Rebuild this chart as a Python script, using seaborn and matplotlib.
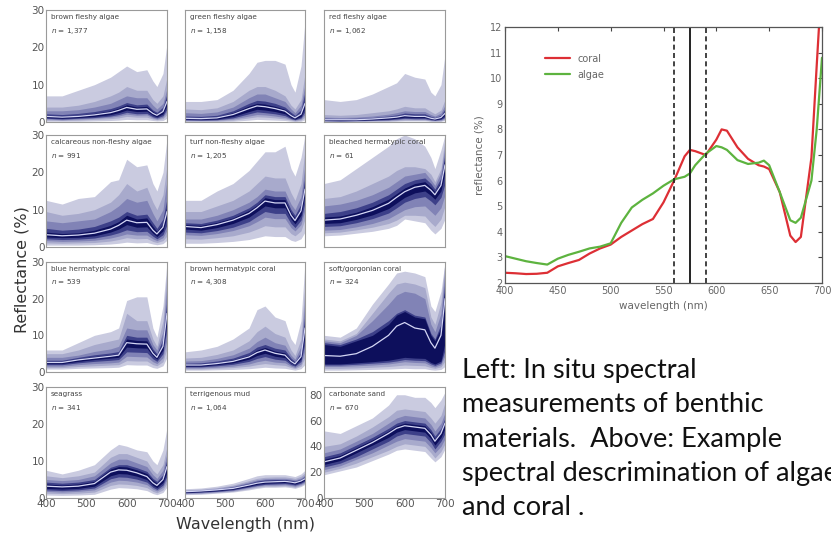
import numpy as np
import pandas as pd
import matplotlib
matplotlib.use("Agg")
import matplotlib.pyplot as plt
import seaborn as sns

sns.set_theme(style="white")
plt.rcParams['font.family'] = ['DejaVu Sans']

# ---------------- data: left panels (percentile bands) ----------------
WL = [400, 440, 480, 520, 560, 580, 600, 625, 650, 665, 675, 690, 700]
# rows: lo1, lo2, lo3, lo4, lo5, median, hi5, hi4, hi3, hi2, hi1
brown_fleshy_algae = [
    [0.2, 0.2, 0.2, 0.3, 0.4, 0.5, 0.7, 0.6, 0.6, 0.4, 0.3, 0.4, 1.0],
    [0.5, 0.4, 0.5, 0.7, 0.9, 1.1, 1.5, 1.3, 1.3, 0.8, 0.6, 0.9, 2.0],
    [0.8, 0.6, 0.8, 1.0, 1.3, 1.6, 2.1, 1.8, 1.9, 1.1, 0.8, 1.3, 2.8],
    [1.0, 0.8, 1.0, 1.2, 1.6, 2.0, 2.6, 2.2, 2.3, 1.4, 1.1, 1.7, 3.5],
    [1.2, 1.0, 1.2, 1.5, 2.0, 2.5, 3.2, 2.8, 2.9, 1.8, 1.4, 2.2, 4.5],
    [1.5, 1.3, 1.5, 1.9, 2.5, 3.1, 3.9, 3.4, 3.5, 2.3, 1.8, 2.8, 5.5],
    [1.8, 1.6, 1.8, 2.3, 3.0, 3.7, 4.6, 4.0, 4.2, 2.8, 2.2, 3.3, 6.5],
    [2.2, 2.0, 2.3, 2.8, 3.6, 4.3, 5.2, 4.6, 4.8, 3.2, 2.6, 4.0, 7.5],
    [3.0, 3.0, 3.3, 4.0, 5.0, 6.0, 7.0, 6.5, 6.5, 4.5, 3.5, 5.0, 9.0],
    [4.0, 4.0, 4.5, 5.5, 7.0, 8.0, 9.5, 8.5, 8.5, 6.0, 5.0, 7.0, 12.0],
    [7.0, 7.0, 8.5, 10.0, 12.0, 13.5, 15.0, 13.5, 14.0, 11.0, 9.5, 13.0, 21.0],
]
green_fleshy_algae = [
    [0.1, 0.1, 0.1, 0.2, 0.5, 0.7, 0.6, 0.5, 0.4, 0.2, 0.1, 0.2, 0.6],
    [0.3, 0.3, 0.3, 0.5, 1.1, 1.4, 1.3, 1.1, 0.8, 0.5, 0.3, 0.5, 1.3],
    [0.5, 0.4, 0.5, 0.8, 1.6, 2.0, 1.9, 1.6, 1.2, 0.7, 0.5, 0.8, 2.0],
    [0.6, 0.5, 0.6, 1.1, 2.2, 2.7, 2.5, 2.2, 1.7, 0.9, 0.6, 1.1, 2.8],
    [0.8, 0.7, 0.8, 1.5, 2.8, 3.4, 3.2, 2.8, 2.2, 1.2, 0.8, 1.5, 3.8],
    [1.0, 0.9, 1.1, 2.0, 3.6, 4.3, 4.1, 3.6, 2.9, 1.7, 1.1, 2.1, 5.0],
    [1.2, 1.1, 1.4, 2.5, 4.3, 5.0, 4.8, 4.2, 3.4, 2.1, 1.4, 2.6, 6.0],
    [1.6, 1.5, 1.8, 3.0, 5.0, 5.8, 5.6, 5.0, 4.0, 2.6, 1.8, 3.3, 8.0],
    [2.5, 2.3, 2.7, 4.0, 6.5, 7.5, 7.5, 6.5, 5.5, 3.5, 2.5, 4.5, 10.0],
    [3.5, 3.3, 3.8, 5.5, 8.5, 9.5, 9.5, 8.5, 7.0, 4.5, 3.5, 6.0, 13.0],
    [5.5, 5.5, 6.0, 8.5, 13.0, 16.0, 16.5, 16.5, 15.5, 10.0, 8.0, 15.0, 27.0],
]
red_fleshy_algae = [
    [0.1, 0.1, 0.1, 0.1, 0.2, 0.2, 0.3, 0.3, 0.3, 0.2, 0.1, 0.2, 0.4],
    [0.2, 0.2, 0.2, 0.3, 0.3, 0.4, 0.5, 0.5, 0.5, 0.3, 0.3, 0.3, 0.7],
    [0.3, 0.2, 0.3, 0.4, 0.5, 0.6, 0.8, 0.7, 0.7, 0.5, 0.4, 0.5, 1.0],
    [0.4, 0.3, 0.4, 0.5, 0.6, 0.8, 1.0, 0.9, 0.9, 0.6, 0.5, 0.7, 1.3],
    [0.5, 0.4, 0.5, 0.6, 0.8, 1.0, 1.3, 1.2, 1.2, 0.8, 0.6, 0.9, 1.8],
    [0.6, 0.6, 0.6, 0.8, 1.1, 1.3, 1.7, 1.5, 1.5, 1.0, 0.8, 1.2, 2.3],
    [0.8, 0.7, 0.8, 1.0, 1.3, 1.6, 2.0, 1.8, 1.8, 1.2, 1.0, 1.5, 2.8],
    [1.0, 0.9, 1.0, 1.2, 1.6, 1.9, 2.4, 2.2, 2.2, 1.5, 1.2, 1.8, 3.5],
    [1.3, 1.2, 1.3, 1.6, 2.1, 2.5, 3.0, 2.8, 2.8, 2.0, 1.6, 2.4, 4.5],
    [2.0, 1.8, 2.0, 2.5, 3.0, 3.5, 4.2, 3.8, 3.8, 2.8, 2.2, 3.2, 6.0],
    [6.0, 5.5, 6.0, 7.5, 9.5, 10.5, 13.0, 12.0, 11.5, 8.0, 7.0, 10.0, 18.0],
]
calcareous_algae = [
    [0.5, 0.5, 0.5, 0.6, 0.8, 1.0, 1.3, 1.1, 1.2, 0.8, 0.6, 0.9, 1.8],
    [1.1, 1.0, 1.1, 1.2, 1.6, 2.0, 2.5, 2.2, 2.3, 1.5, 1.2, 1.7, 3.0],
    [1.7, 1.5, 1.6, 1.8, 2.4, 2.9, 3.5, 3.2, 3.2, 2.2, 1.7, 2.5, 4.5],
    [2.2, 2.0, 2.1, 2.4, 3.2, 3.8, 4.6, 4.1, 4.2, 2.9, 2.2, 3.3, 6.0],
    [2.7, 2.5, 2.6, 3.0, 4.0, 4.8, 6.0, 5.3, 5.4, 3.7, 2.8, 4.3, 8.0],
    [3.3, 3.0, 3.2, 3.7, 4.8, 5.8, 7.2, 6.5, 6.6, 4.5, 3.5, 5.3, 9.5],
    [4.0, 3.6, 3.8, 4.5, 5.8, 6.8, 8.5, 7.5, 7.8, 5.5, 4.2, 6.3, 11.0],
    [5.0, 4.5, 4.8, 5.5, 7.0, 8.0, 9.5, 8.5, 8.8, 6.5, 5.0, 7.5, 13.0],
    [7.0, 6.5, 7.0, 7.5, 9.5, 11.0, 13.0, 12.0, 12.5, 9.0, 7.0, 10.0, 18.0],
    [9.5, 8.5, 9.0, 10.0, 12.0, 14.0, 17.0, 15.0, 16.0, 12.0, 10.0, 14.0, 22.0],
    [12.5, 11.5, 13.0, 13.5, 17.5, 18.0, 23.5, 21.5, 22.0, 17.0, 15.0, 20.0, 29.0],
]
turf_algae = [
    [1.0, 1.0, 1.2, 1.5, 2.0, 2.5, 3.0, 2.8, 2.8, 1.8, 1.5, 2.2, 4.0],
    [2.2, 2.1, 2.5, 3.0, 4.0, 4.8, 5.7, 5.4, 5.4, 3.6, 3.0, 4.3, 7.5],
    [3.3, 3.1, 3.6, 4.4, 5.7, 6.8, 8.0, 7.6, 7.6, 5.2, 4.3, 6.0, 10.0],
    [4.0, 3.8, 4.4, 5.3, 6.8, 8.2, 9.5, 9.0, 9.0, 6.3, 5.2, 7.2, 12.0],
    [4.8, 4.5, 5.2, 6.3, 8.0, 9.5, 11.0, 10.5, 10.5, 7.5, 6.2, 8.5, 14.0],
    [5.5, 5.2, 6.0, 7.2, 9.0, 10.5, 12.3, 11.8, 11.8, 8.5, 7.1, 9.7, 15.5],
    [6.0, 5.8, 6.6, 7.8, 9.8, 11.2, 13.2, 12.7, 12.7, 9.2, 7.8, 10.5, 17.0],
    [6.5, 6.3, 7.2, 8.5, 10.5, 12.0, 14.0, 13.5, 13.5, 10.0, 8.5, 11.5, 19.0],
    [7.5, 7.5, 8.5, 10.0, 12.0, 13.5, 15.5, 15.0, 15.0, 11.5, 10.0, 13.5, 22.0],
    [9.5, 9.5, 11.0, 12.5, 15.0, 17.0, 19.0, 18.5, 18.5, 14.5, 12.5, 17.0, 26.0],
    [12.5, 12.5, 15.0, 17.0, 20.5, 23.0, 25.5, 25.5, 27.0, 21.0, 19.0, 24.0, 30.0],
]
bleached_coral = [
    [3.0, 3.2, 3.7, 4.2, 5.0, 5.8, 7.5, 7.0, 6.5, 4.5, 3.5, 5.0, 7.5],
    [3.8, 4.0, 4.6, 5.3, 6.3, 7.2, 8.5, 8.5, 8.3, 6.5, 5.5, 7.5, 11.0],
    [4.5, 4.7, 5.4, 6.3, 7.6, 8.8, 10.0, 10.8, 11.0, 9.5, 8.5, 10.5, 14.0],
    [5.5, 5.7, 6.5, 7.6, 9.1, 10.5, 12.0, 13.0, 13.5, 12.3, 11.3, 13.3, 17.0],
    [6.3, 6.5, 7.4, 8.6, 10.3, 11.8, 13.3, 14.5, 15.0, 13.8, 12.8, 15.0, 20.0],
    [7.2, 7.5, 8.5, 9.8, 11.7, 13.3, 14.8, 16.0, 16.5, 15.2, 14.0, 16.5, 22.0],
    [8.0, 8.3, 9.3, 10.8, 12.8, 14.3, 15.8, 17.0, 17.5, 16.0, 14.8, 17.5, 24.0],
    [9.0, 9.5, 10.5, 12.0, 14.0, 15.5, 17.0, 18.0, 18.5, 17.0, 15.5, 18.5, 25.0],
    [11.0, 11.5, 12.5, 14.0, 16.0, 17.5, 19.0, 19.5, 20.0, 18.0, 16.5, 20.0, 27.0],
    [13.0, 13.5, 15.0, 17.0, 19.0, 20.5, 21.5, 21.5, 21.0, 19.5, 17.5, 21.0, 29.0],
    [17.0, 18.0, 21.0, 24.0, 27.0, 29.0, 30.0, 29.0, 27.0, 24.0, 21.0, 26.0, 30.0],
]
blue_coral = [
    [0.8, 0.8, 1.0, 1.1, 1.2, 1.3, 2.0, 1.9, 1.9, 1.2, 1.0, 1.7, 4.0],
    [1.2, 1.2, 1.5, 1.7, 1.9, 2.0, 3.1, 3.0, 3.0, 2.0, 1.7, 2.8, 6.5],
    [1.6, 1.6, 2.0, 2.3, 2.5, 2.7, 4.3, 4.2, 4.1, 2.8, 2.3, 3.9, 9.0],
    [2.0, 2.0, 2.5, 2.9, 3.2, 3.4, 5.5, 5.4, 5.3, 3.6, 2.9, 5.0, 12.0],
    [2.3, 2.3, 2.9, 3.4, 3.8, 4.0, 6.8, 6.6, 6.5, 4.4, 3.5, 6.0, 14.0],
    [2.6, 2.6, 3.3, 3.8, 4.3, 4.6, 8.0, 7.7, 7.6, 5.1, 4.0, 7.0, 16.0],
    [2.9, 2.9, 3.6, 4.2, 4.7, 5.0, 9.0, 8.6, 8.5, 5.7, 4.5, 8.0, 18.0],
    [3.2, 3.2, 4.0, 4.7, 5.2, 5.6, 10.0, 9.5, 9.5, 6.3, 5.0, 9.0, 20.0],
    [4.0, 4.0, 4.6, 5.6, 6.3, 7.0, 12.0, 11.5, 11.5, 7.5, 6.0, 11.0, 24.0],
    [5.0, 5.0, 6.0, 7.5, 8.5, 9.0, 16.0, 14.0, 14.0, 9.0, 7.0, 14.0, 28.0],
    [6.0, 6.0, 8.0, 10.0, 11.0, 12.0, 19.5, 20.5, 20.5, 12.0, 9.5, 18.0, 30.0],
]
brown_coral = [
    [0.5, 0.5, 0.6, 0.7, 0.9, 1.1, 1.3, 1.1, 1.0, 0.7, 0.5, 0.9, 2.0],
    [0.8, 0.8, 1.0, 1.2, 1.6, 2.0, 2.3, 2.0, 1.8, 1.2, 0.9, 1.6, 4.0],
    [1.1, 1.1, 1.3, 1.6, 2.2, 2.8, 3.2, 2.7, 2.5, 1.6, 1.2, 2.2, 6.0],
    [1.4, 1.4, 1.7, 2.1, 2.9, 3.7, 4.2, 3.5, 3.2, 2.0, 1.6, 2.9, 8.0],
    [1.6, 1.6, 2.0, 2.5, 3.5, 4.5, 5.1, 4.3, 3.9, 2.5, 1.9, 3.6, 10.0],
    [1.9, 1.9, 2.3, 2.9, 4.1, 5.3, 6.0, 5.1, 4.6, 2.9, 2.2, 4.2, 12.0],
    [2.1, 2.2, 2.6, 3.3, 4.6, 6.0, 6.7, 5.7, 5.2, 3.3, 2.5, 4.8, 14.0],
    [2.4, 2.5, 3.0, 3.8, 5.3, 6.8, 7.5, 6.5, 6.0, 3.8, 2.8, 5.5, 16.0],
    [3.0, 3.1, 3.7, 4.7, 6.5, 8.3, 9.5, 8.0, 7.3, 4.6, 3.5, 7.0, 20.0],
    [3.8, 4.0, 4.8, 6.0, 8.5, 11.0, 12.5, 10.5, 9.5, 6.0, 4.5, 9.0, 24.0],
    [5.5, 6.0, 7.0, 9.0, 12.0, 17.0, 18.0, 15.0, 14.0, 9.0, 7.5, 14.0, 30.0],
]
soft_coral = [
    [0.5, 0.5, 0.6, 0.7, 0.8, 0.9, 1.0, 0.9, 0.9, 0.6, 0.5, 0.7, 1.5],
    [1.0, 1.0, 1.1, 1.3, 1.5, 1.7, 1.9, 1.8, 1.7, 1.2, 1.0, 1.4, 3.0],
    [1.5, 1.5, 1.7, 1.9, 2.2, 2.5, 2.8, 2.6, 2.5, 1.7, 1.4, 2.0, 4.5],
    [1.9, 1.9, 2.1, 2.4, 2.7, 3.0, 3.4, 3.2, 3.1, 2.2, 1.8, 2.5, 6.0],
    [2.2, 2.2, 2.5, 2.8, 3.2, 3.6, 4.0, 3.8, 3.7, 2.6, 2.2, 3.0, 8.0],
    [4.5, 4.3, 5.0, 7.0, 10.0, 12.5, 13.5, 12.0, 11.5, 8.0, 6.5, 10.0, 20.0],
    [7.5, 7.0, 8.5, 10.0, 13.0, 15.5, 16.5, 15.0, 14.5, 10.0, 8.5, 12.0, 23.0],
    [8.0, 7.5, 9.0, 11.0, 14.0, 16.0, 17.0, 15.5, 15.0, 10.5, 9.0, 13.0, 25.0],
    [8.5, 8.0, 10.0, 14.0, 18.5, 21.0, 22.0, 21.5, 20.0, 13.0, 11.0, 16.0, 28.0],
    [9.0, 8.5, 10.5, 16.0, 21.5, 24.0, 24.5, 24.0, 23.0, 15.0, 13.0, 19.0, 30.0],
    [10.0, 9.5, 12.0, 18.5, 24.0, 27.0, 27.5, 27.0, 26.0, 18.0, 16.5, 22.0, 30.0],
]
seagrass = [
    [0.8, 0.7, 0.8, 1.0, 2.4, 2.8, 2.7, 2.5, 2.0, 1.2, 0.9, 1.5, 3.0],
    [1.3, 1.2, 1.3, 1.6, 3.4, 3.8, 3.7, 3.4, 2.8, 1.8, 1.4, 2.2, 4.0],
    [1.8, 1.6, 1.8, 2.2, 4.3, 4.8, 4.7, 4.3, 3.6, 2.4, 1.9, 2.9, 5.0],
    [2.2, 2.0, 2.2, 2.7, 5.2, 5.7, 5.6, 5.1, 4.3, 2.9, 2.3, 3.5, 6.0],
    [2.6, 2.4, 2.6, 3.2, 6.0, 6.6, 6.5, 5.9, 5.0, 3.4, 2.8, 4.2, 7.0],
    [3.2, 3.0, 3.2, 3.9, 7.0, 7.6, 7.5, 6.8, 5.8, 4.1, 3.4, 5.0, 8.5],
    [3.8, 3.5, 3.8, 4.5, 7.8, 8.5, 8.4, 7.6, 6.6, 4.8, 4.0, 5.8, 9.5],
    [4.3, 4.0, 4.3, 5.0, 8.3, 9.0, 9.0, 8.2, 7.2, 5.3, 4.5, 6.3, 10.5],
    [5.0, 4.7, 5.0, 6.0, 9.5, 10.5, 10.5, 9.5, 8.5, 6.3, 5.3, 7.5, 12.0],
    [6.0, 5.5, 6.0, 7.0, 11.0, 12.0, 12.0, 11.0, 10.0, 7.5, 6.5, 9.0, 14.0],
    [7.5, 6.5, 7.5, 9.0, 13.0, 14.5, 14.0, 13.0, 12.5, 10.0, 9.0, 13.0, 19.0],
]
terrigenous_mud = [
    [0.9, 1.0, 1.3, 1.6, 2.2, 2.6, 2.9, 2.9, 3.0, 2.8, 2.6, 3.1, 3.7],
    [1.1, 1.2, 1.5, 1.8, 2.5, 2.9, 3.2, 3.2, 3.3, 3.1, 2.9, 3.4, 4.0],
    [1.3, 1.4, 1.7, 2.0, 2.8, 3.2, 3.5, 3.5, 3.6, 3.4, 3.2, 3.7, 4.3],
    [1.4, 1.6, 1.8, 2.2, 3.0, 3.4, 3.7, 3.8, 3.9, 3.7, 3.5, 4.0, 4.6],
    [1.5, 1.7, 2.0, 2.4, 3.2, 3.7, 4.0, 4.1, 4.2, 4.0, 3.8, 4.3, 4.9],
    [1.7, 1.9, 2.2, 2.6, 3.5, 4.0, 4.3, 4.4, 4.5, 4.3, 4.1, 4.6, 5.2],
    [1.8, 2.0, 2.3, 2.8, 3.8, 4.3, 4.6, 4.7, 4.8, 4.6, 4.4, 4.9, 5.5],
    [1.9, 2.1, 2.4, 3.0, 4.0, 4.6, 4.9, 5.0, 5.0, 4.8, 4.6, 5.1, 5.8],
    [2.0, 2.2, 2.6, 3.2, 4.3, 4.9, 5.2, 5.3, 5.3, 5.1, 4.9, 5.4, 6.2],
    [2.2, 2.4, 2.8, 3.5, 4.7, 5.3, 5.6, 5.7, 5.7, 5.5, 5.3, 5.9, 6.8],
    [2.5, 2.7, 3.2, 4.0, 5.3, 6.0, 6.3, 6.3, 6.3, 6.0, 5.8, 6.5, 7.5],
]
carbonate_sand = [
    [18, 21, 24, 29, 34, 37, 38, 37, 36, 31, 28, 32, 38],
    [20, 23, 27, 32, 37, 40, 42, 41, 40, 35, 31, 36, 42],
    [22, 25, 30, 35, 41, 44, 46, 45, 44, 39, 35, 40, 46],
    [24, 27, 32, 38, 44, 48, 50, 49, 48, 43, 38, 44, 50],
    [26, 29, 35, 41, 47, 51, 53, 52, 51, 46, 41, 47, 54],
    [28, 31, 37, 43, 50, 54, 56, 55, 54, 49, 44, 50, 58],
    [30, 33, 39, 45, 52, 56, 58, 57, 56, 51, 46, 52, 60],
    [32, 35, 41, 47, 54, 58, 60, 59, 58, 53, 48, 54, 62],
    [35, 38, 44, 50, 58, 62, 64, 63, 62, 57, 52, 58, 66],
    [40, 42, 48, 55, 63, 68, 69, 68, 67, 62, 58, 64, 74],
    [52, 50, 56, 62, 72, 80, 80, 78, 78, 74, 70, 76, 82],
]

PANEL_NAMES = ["brown fleshy algae", "green fleshy algae", "red fleshy algae",
               "calcareous non-fleshy algae", "turf non-fleshy algae", "bleached hermatypic coral",
               "blue hermatypic coral", "brown hermatypic coral", "soft/gorgonian coral",
               "seagrass", "terrigenous mud", "carbonate sand"]
PANEL_N = ["1,377", "1,158", "1,062", "991", "1,205", "61",
           "539", "4,308", "324", "341", "1,064", "670"]
PANEL_DATA = [brown_fleshy_algae, green_fleshy_algae, red_fleshy_algae,
              calcareous_algae, turf_algae, bleached_coral,
              blue_coral, brown_coral, soft_coral,
              seagrass, terrigenous_mud, carbonate_sand]

# ---------------- data: right chart ----------------
SPEC_WL = [400, 410, 420, 430, 440, 450, 460, 470, 480, 490, 500, 510, 520, 530, 540, 550,
           560, 570, 575, 580, 590, 600, 605, 610, 620, 630, 640, 645, 650, 660, 670, 675,
           680, 690, 695, 700]
coral = [2.40, 2.38, 2.35, 2.36, 2.40, 2.65, 2.78, 2.90, 3.15, 3.35, 3.50, 3.80, 4.05, 4.30, 4.50, 5.15,
         6.00, 6.95, 7.20, 7.15, 7.00, 7.60, 8.00, 7.95, 7.30, 6.85, 6.60, 6.55, 6.45, 5.55, 3.85, 3.60,
         3.80, 6.90, 10.5, 14.0]
algae = [3.05, 2.95, 2.85, 2.78, 2.72, 2.95, 3.10, 3.22, 3.35, 3.42, 3.55, 4.35, 4.95, 5.25, 5.50, 5.80,
         6.05, 6.15, 6.28, 6.60, 7.05, 7.35, 7.30, 7.20, 6.80, 6.65, 6.70, 6.78, 6.60, 5.55, 4.45, 4.35,
         4.55, 6.00, 8.00, 10.8]
VLINES_DASHED = [560, 590]
VLINE_SOLID = [575]

CAPTION = ["Left: In situ spectral", "measurements of benthic", "materials.  Above: Example",
           "spectral descrimination of algae", "and coral ."]

# ---------------- figure ----------------
W, H = 831, 537
fig = plt.figure(figsize=(W / 100, H / 100), dpi=100)
fig.patch.set_facecolor("white")

BAND_COLORS = ["#cacbe0", "#a8aacc", "#8183b6", "#3d4089", "#0d0f5c"]
col_x = [(46, 167), (185, 305), (324, 445)]
row_y = [(10, 122), (135, 247), (262, 372), (387, 498)]
TICK_C = "#555555"

for i, (name, n, rows) in enumerate(zip(PANEL_NAMES, PANEL_N, PANEL_DATA)):
    r, c = divmod(i, 3)
    x0, x1 = col_x[c]
    y0, y1 = row_y[r]
    ax = fig.add_axes([x0 / W, 1 - y1 / H, (x1 - x0) / W, (y1 - y0) / H])
    ax.set_facecolor("white")
    lows = rows[:5]
    highs = rows[6:][::-1]
    for k in range(5):
        ax.fill_between(WL, lows[k], highs[k], color=BAND_COLORS[k], lw=0)
    sns.lineplot(x=WL, y=rows[5], ax=ax, color="#d4d6f5", lw=0.9)
    ax.set_xlim(400, 700)
    if name == "carbonate sand":
        ax.set_ylim(0, 86)
        ax.set_yticks([0, 20, 40, 60, 80])
    else:
        ax.set_ylim(0, 30)
        ax.set_yticks([0, 10, 20, 30])
    ax.set_xticks([400, 500, 600, 700])
    ax.tick_params(direction="in", length=2, width=0.5, colors="#888888",
                   labelcolor=TICK_C, labelsize=7.5, pad=1)
    if c != 0 and name != "carbonate sand":
        ax.set_yticklabels([])
    if r != 3:
        ax.set_xticklabels([])
    for s in ax.spines.values():
        s.set_color("#9a9a9a")
        s.set_linewidth(0.8)
    ax.text(0.04, 0.96, name, transform=ax.transAxes, fontsize=5.2, color="#444444",
            va="top", ha="left")
    ax.text(0.04, 0.86, r"$n$ = " + n, transform=ax.transAxes, fontsize=5.2, color="#444444",
            va="top", ha="left")

fig.text(22 / W, 1 - 270 / H, "Reflectance (%)", rotation=90, fontsize=11.5, color="#333333",
         ha="center", va="center")
fig.text(246 / W, 1 - 524 / H, "Wavelength (nm)", fontsize=11.5, color="#333333",
         ha="center", va="center")

# ---------------- right chart ----------------
axr = fig.add_axes([505 / W, 1 - 283 / H, (822 - 505) / W, (283 - 27) / H])
spec = pd.DataFrame({"wavelength": SPEC_WL * 2,
                     "reflectance": coral + algae,
                     "type": ["coral"] * len(SPEC_WL) + ["algae"] * len(SPEC_WL)})
sns.lineplot(data=spec, x="wavelength", y="reflectance", hue="type",
             palette={"coral": "#dd2f35", "algae": "#5db33f"}, lw=1.6, ax=axr)
for v in VLINES_DASHED:
    axr.axvline(v, color="#222222", lw=1.2, ls=(0, (3, 2)))
for v in VLINE_SOLID:
    axr.axvline(v, color="#222222", lw=1.4)
axr.set_xlim(400, 700)
axr.set_ylim(2, 12)
axr.set_xticks([400, 450, 500, 550, 600, 650, 700])
axr.set_yticks(list(range(2, 13)))
axr.tick_params(direction="in", length=3, width=0.8, colors="#444444",
                labelcolor="#666666", labelsize=7, top=True, right=True, pad=2)
for s in axr.spines.values():
    s.set_color("#555555")
    s.set_linewidth(0.9)
axr.set_xlabel("wavelength (nm)", fontsize=7.5, color="#666666", labelpad=4)
axr.set_ylabel("reflectance (%)", fontsize=7.5, color="#666666", labelpad=4)
leg = axr.legend(loc="upper left", bbox_to_anchor=(0.1, 0.93), frameon=False, fontsize=7,
                 handlelength=2.5, labelspacing=0.6, title=None)
for t in leg.get_texts():
    t.set_color("#666666")

# ---------------- caption ----------------
for j, line in enumerate(CAPTION):
    fig.text(462 / W, 1 - (378 + 34.3 * j) / H, line, fontsize=19.5, family="Lato",
             color="#111111", ha="left", va="baseline")

fig.savefig("out.png", dpi=100)
